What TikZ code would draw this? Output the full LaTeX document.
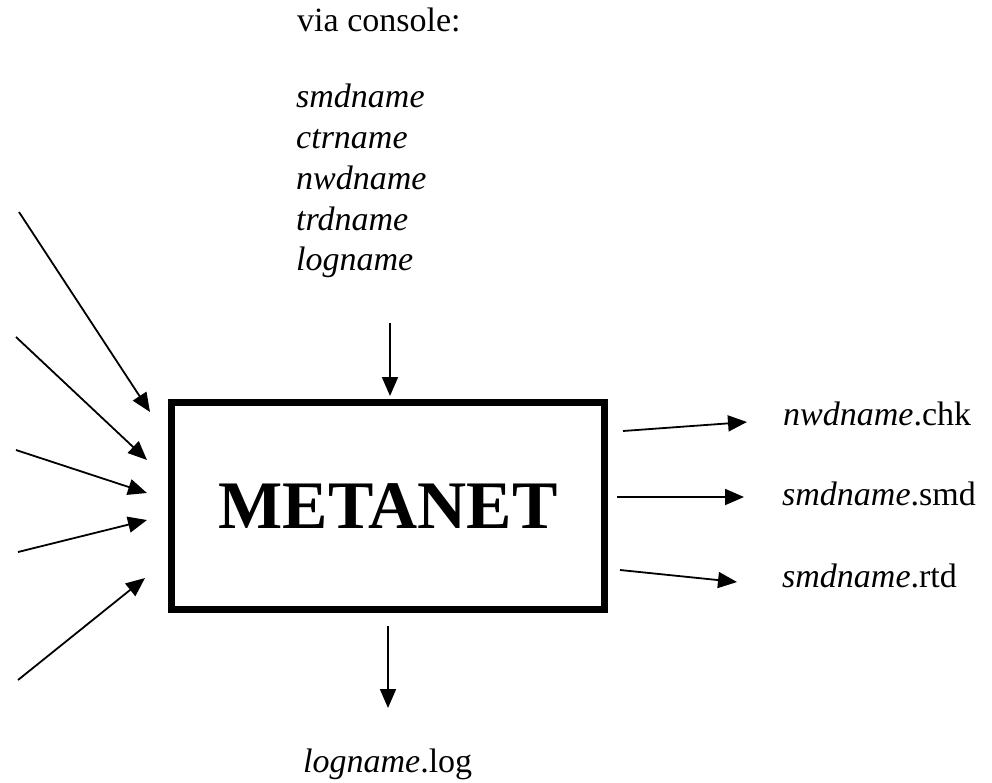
\documentclass[tikz,border=0pt]{standalone}
\usepackage{fontspec}
\setmainfont{Liberation Serif}
\usetikzlibrary{arrows.meta}
\begin{document}
\begin{tikzpicture}[x=1pt,y=-1pt,
  txt/.style={inner sep=0pt,anchor=base west,font=\fontsize{34}{40.8}\selectfont},
  arr/.style={line width=1.8pt,-{Triangle[length=19pt,width=16pt]}},
  mainbox/.style={draw,line width=7pt,minimum width=432.5pt,minimum height=207pt,inner sep=0pt,font=\fontsize{68}{80}\selectfont\bfseries}]
\useasboundingbox (0,0) rectangle (992,782);
\node[mainbox] (meta) at (388,506) {METANET};
\node[txt] (via) at (297,31) {via console:};
\node[txt,align=left,anchor=north west] (names) at (296,84)
  {\itshape smdname\\\itshape ctrname\\\itshape nwdname\\\itshape trdname\\\itshape logname};
\node[txt] (chk) at (783,425) {\textit{nwdname}.chk};
\node[txt] (smd) at (782,505) {\textit{smdname}.smd};
\node[txt] (rtd) at (782,587) {\textit{smdname}.rtd};
\node[txt] (log) at (303,772) {\textit{logname}.log};
% coordinates
\coordinate (t1) at (390,323); \coordinate (t2) at (390,396);
\coordinate (b1) at (388,626); \coordinate (b2) at (388,708);
\coordinate (l1s) at (19,212);  \coordinate (l1e) at (150,412);
\coordinate (l2s) at (16,337);  \coordinate (l2e) at (147,460);
\coordinate (l3s) at (16,450);  \coordinate (l3e) at (147,493);
\coordinate (l4s) at (18,552);  \coordinate (l4e) at (147,520);
\coordinate (l5s) at (18,680);  \coordinate (l5e) at (145,578);
\coordinate (r1s) at (623,431); \coordinate (r1e) at (747,422);
\coordinate (r2s) at (617,497); \coordinate (r2e) at (744,497);
\coordinate (r3s) at (620,570); \coordinate (r3e) at (737,582);
\draw[arr] (t1) -- (t2);
\draw[arr] (b1) -- (b2);
\draw[arr] (l1s) -- (l1e);
\draw[arr] (l2s) -- (l2e);
\draw[arr] (l3s) -- (l3e);
\draw[arr] (l4s) -- (l4e);
\draw[arr] (l5s) -- (l5e);
\draw[arr] (r1s) -- (r1e);
\draw[arr] (r2s) -- (r2e);
\draw[arr] (r3s) -- (r3e);
\end{tikzpicture}
\end{document}
